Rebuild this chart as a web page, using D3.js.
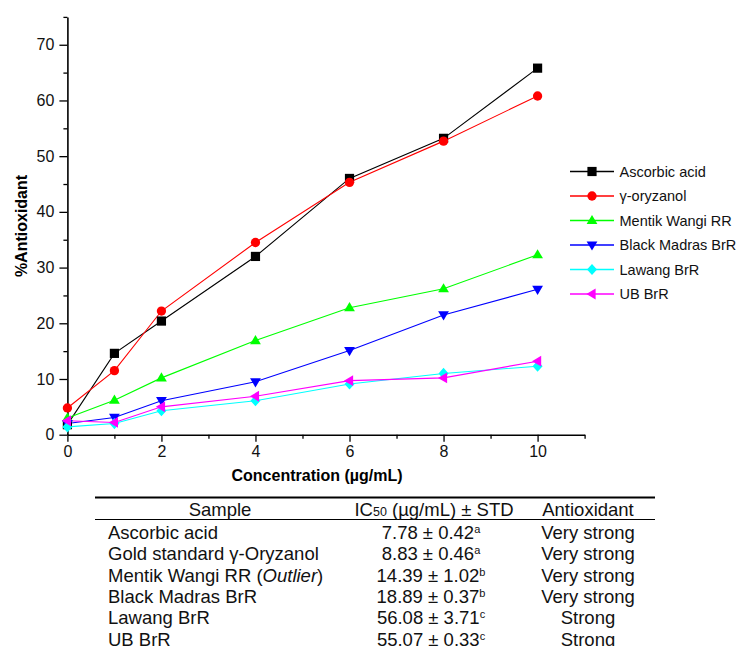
<!DOCTYPE html>
<html>
<head>
<meta charset="utf-8">
<script src="https://cdn.jsdelivr.net/npm/d3@7"></script>
<style>
  body { margin: 0; background: #fff; }
  svg { display: block; font-family: "Liberation Sans", Arial, sans-serif; }
</style>
</head>
<body>
<div id="chart"></div>
<script>
// concentrations (µg/mL)
const concentrations = [0, 1, 2, 4, 6, 8, 10];

// % antioxidant per sample
const ascorbicAcid   = [1.8, 14.6, 20.4, 32.0, 46.0, 53.2, 65.8];
const gammaOryzanol  = [4.8, 11.5, 22.2, 34.5, 45.3, 52.7, 60.8];
const mentikWangi    = [3.0, 6.2, 10.2, 16.9, 22.8, 26.2, 32.3];
const blackMadras    = [2.0, 3.1, 6.1, 9.5, 15.1, 21.5, 26.1];
const lawang         = [1.4, 2.0, 4.3, 6.1, 9.1, 11.0, 12.3];
const ubBrR          = [2.5, 2.2, 5.0, 6.9, 9.7, 10.2, 13.2];

const seriesNames = ["Ascorbic acid", "γ-oryzanol", "Mentik Wangi RR", "Black Madras BrR", "Lawang BrR", "UB BrR"];
const seriesValues = [ascorbicAcid, gammaOryzanol, mentikWangi, blackMadras, lawang, ubBrR];
const seriesColors = ["#000000", "#ff0000", "#00ff00", "#0000ff", "#00ffff", "#ff00ff"];
const seriesSymbols = ["square", "circle", "up", "down", "diamond", "left"];

const xTicks = [0, 2, 4, 6, 8, 10];
const xMinorTicks = [1, 3, 5, 7, 9, 11];
const yTicks = [0, 10, 20, 30, 40, 50, 60, 70];
const yMinorTicks = [5, 15, 25, 35, 45, 55, 65, 75];

// IC50 table
const tableSamples = ["Ascorbic acid", "Gold standard γ-Oryzanol", "Mentik Wangi RR", "Black Madras BrR", "Lawang BrR", "UB BrR"];
const tableNotes = ["", "", "Outlier", "", "", ""];
const tableIC50 = ["7.78", "8.83", "14.39", "18.89", "56.08", "55.07"];
const tableStd = ["0.42", "0.46", "1.02", "0.37", "3.71", "0.33"];
const tableGroups = ["a", "a", "b", "b", "c", "c"];
const tableActivity = ["Very strong", "Very strong", "Very strong", "Very strong", "Strong", "Strong"];

const width = 737, height = 646;

const svg = d3.select("#chart")
    .append("svg")
    .attr("width", width)
    .attr("height", height);

const xScale = d3.scaleLinear().domain([0, 11]).range([67.4, 584.6]);
const yScale = d3.scaleLinear().domain([0, 75]).range([434.7, 16.9]);

// axes
svg.append("g")
    .attr("transform", `translate(0, ${yScale(0)})`)
    .call(d3.axisBottom(xScale).tickValues(xTicks).tickSize(7).tickSizeOuter(0).tickPadding(4).tickFormat(d3.format("d")));
svg.append("g")
    .attr("transform", `translate(0, ${yScale(0)})`)
    .call(d3.axisBottom(xScale).tickValues(xMinorTicks).tickSize(4).tickSizeOuter(0).tickFormat(""))
    .call(g => g.select(".domain").remove());

svg.append("g")
    .attr("transform", `translate(${xScale(0)}, 0)`)
    .call(d3.axisLeft(yScale).tickValues(yTicks).tickSize(8).tickSizeOuter(0).tickPadding(5).tickFormat(d3.format("d")));
svg.append("g")
    .attr("transform", `translate(${xScale(0)}, 0)`)
    .call(d3.axisLeft(yScale).tickValues(yMinorTicks).tickSize(4).tickSizeOuter(0).tickFormat(""))
    .call(g => g.select(".domain").remove());

svg.selectAll(".domain").attr("stroke-width", 1.6);
svg.selectAll(".tick line").attr("stroke-width", 1.3);
svg.selectAll(".tick text")
    .attr("font-family", "'Liberation Sans', Arial, sans-serif")
    .attr("font-size", 16)
    .attr("fill", "#111");

svg.append("text")
    .attr("x", 317)
    .attr("y", 481)
    .attr("text-anchor", "middle")
    .attr("font-size", 16)
    .attr("font-weight", "bold")
    .text("Concentration (µg/mL)");

svg.append("text")
    .attr("transform", "translate(27, 226) rotate(-90)")
    .attr("text-anchor", "middle")
    .attr("font-size", 16)
    .attr("font-weight", "bold")
    .text("%Antioxidant");

// marker shapes
function symbolPath(type) {
    if (type === "square") return "M-4.6,-4.6H4.6V4.6H-4.6Z";
    if (type === "circle") return d3.symbol(d3.symbolCircle, 68)();
    if (type === "up") return "M0,-5.6L5.4,3.6H-5.4Z";
    if (type === "down") return "M0,5.6L5.4,-3.6H-5.4Z";
    if (type === "diamond") return "M0,-5.6L5,0L0,5.6L-5,0Z";
    if (type === "left") return "M-5.6,0L3.6,-5.4V5.4Z";
}

const line = d3.line()
    .x((d, i) => xScale(concentrations[i]))
    .y(d => yScale(d));

seriesValues.forEach(function(values, s) {
    svg.append("path")
        .datum(values)
        .attr("fill", "none")
        .attr("stroke", seriesColors[s])
        .attr("stroke-width", 1.1)
        .attr("d", line);
});

seriesValues.forEach(function(values, s) {
    svg.append("g")
        .selectAll("path")
        .data(values)
        .enter()
        .append("path")
        .attr("transform", (d, i) => `translate(${xScale(concentrations[i])}, ${yScale(d)})`)
        .attr("d", symbolPath(seriesSymbols[s]))
        .attr("fill", seriesColors[s]);
});

// legend
const legend = svg.append("g").attr("transform", "translate(570, 171.5)");
seriesNames.forEach(function(name, s) {
    const row = legend.append("g").attr("transform", `translate(0, ${s * 24.5})`);
    row.append("line")
        .attr("x1", 0).attr("x2", 44)
        .attr("stroke", seriesColors[s])
        .attr("stroke-width", 1.3);
    row.append("path")
        .attr("transform", "translate(22, 0)")
        .attr("d", symbolPath(seriesSymbols[s]))
        .attr("fill", seriesColors[s]);
    row.append("text")
        .attr("x", 49.5)
        .attr("dy", "0.36em")
        .attr("font-size", 14.5)
        .attr("fill", "#111")
        .text(name);
});

// table (its last row runs to the bottom edge, as in the reference)
const table = svg.append("g").attr("font-size", 18.5).attr("fill", "#111");
const colSample = 108, colSampleHead = 220, colIC = 431, colAct = 588;

table.append("line").attr("x1", 95).attr("x2", 655).attr("y1", 497.5).attr("y2", 497.5)
    .attr("stroke", "#000").attr("stroke-width", 2);
table.append("line").attr("x1", 95).attr("x2", 655).attr("y1", 519.5).attr("y2", 519.5)
    .attr("stroke", "#000").attr("stroke-width", 1.2);

table.append("text").attr("x", colSampleHead).attr("y", 516).attr("text-anchor", "middle").text("Sample");
const icHead = table.append("text").attr("x", 434).attr("y", 516).attr("text-anchor", "middle");
icHead.append("tspan").text("IC");
icHead.append("tspan").attr("font-size", 12.5).text("50");
icHead.append("tspan").text(" (µg/mL) ± STD");
table.append("text").attr("x", colAct).attr("y", 516).attr("text-anchor", "middle").text("Antioxidant");

tableSamples.forEach(function(name, i) {
    const y = 539 + i * 21.3;
    const t = table.append("text").attr("x", colSample).attr("y", y);
    t.append("tspan").text(name);
    if (tableNotes[i]) {
        t.append("tspan").text(" (");
        t.append("tspan").attr("font-style", "italic").text(tableNotes[i]);
        t.append("tspan").text(")");
    }
    const v = table.append("text").attr("x", colIC).attr("y", y).attr("text-anchor", "middle");
    v.append("tspan").text(`${tableIC50[i]} ± ${tableStd[i]}`);
    v.append("tspan").attr("font-size", 11).attr("dy", -6).text(tableGroups[i]);
    table.append("text").attr("x", colAct).attr("y", y).attr("text-anchor", "middle").text(tableActivity[i]);
});
</script>
</body>
</html>
